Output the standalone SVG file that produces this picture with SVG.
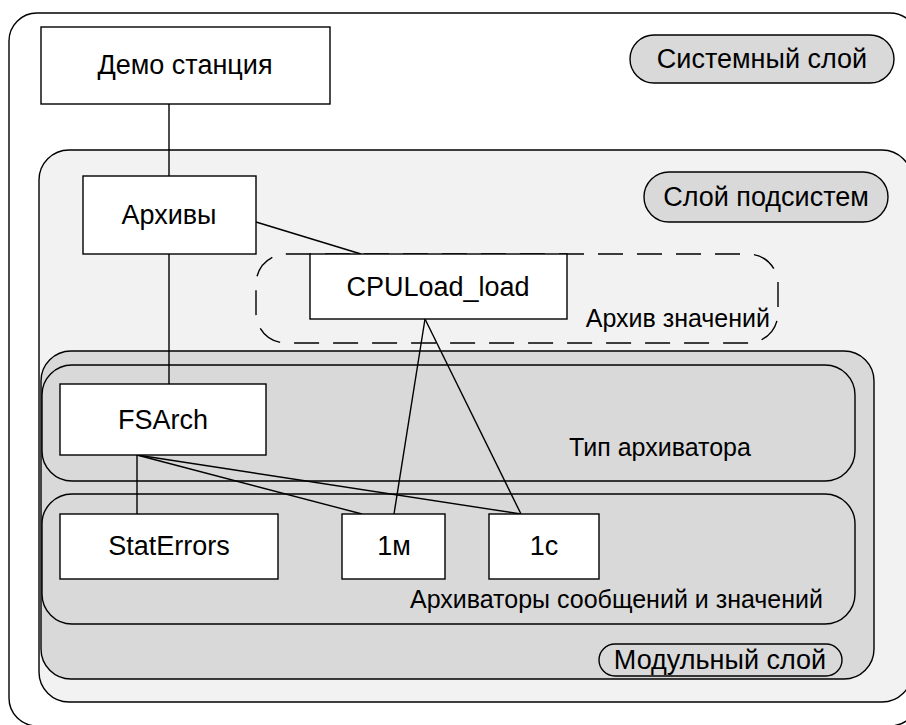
<svg xmlns="http://www.w3.org/2000/svg" width="906" height="725" viewBox="0 0 906 725">
<style>
.layer{stroke:#000;stroke-width:1.4}
.box{fill:#fff;stroke:#000;stroke-width:1.4}
.pill{fill:#d9d9d9;stroke:#000;stroke-width:1.4}
.t{font-family:"Liberation Sans",Arial,sans-serif;font-size:27px;fill:#000}
.s{font-size:25px}
.c{text-anchor:middle}
.e{text-anchor:end}
.conn line{stroke:#000;stroke-width:1.4}
</style>
<rect width="906" height="725" fill="#fff"/>
<g id="system-layer">
<rect class="layer" x="9" y="13" width="909" height="713" rx="28" fill="#fff"/>
<rect class="pill" x="630" y="35" width="264" height="48" rx="24"/>
<text class="t c" x="762" y="68">Системный слой</text>
</g>
<g id="subsystem-layer">
<rect class="layer" x="39" y="150" width="873" height="552" rx="30" fill="#f2f2f2"/>
<rect class="pill" x="644" y="172" width="244" height="50" rx="25"/>
<text class="t c" x="766" y="206">Слой подсистем</text>
</g>
<g id="value-archive-group">
<rect x="256" y="254" width="522" height="89" rx="30" fill="none" stroke="#000" stroke-width="1.4" stroke-dasharray="25,14"/>
<text class="t s e" x="770" y="327">Архив значений</text>
</g>
<g id="module-layer">
<rect class="layer" x="41" y="351" width="833" height="328" rx="30" fill="#d9d9d9"/>
<rect class="pill" x="599" y="644" width="243" height="32" rx="16"/>
<text class="t c" x="720" y="669">Модульный слой</text>
</g>
<g id="archiver-type-layer">
<rect class="layer" x="42" y="365" width="813" height="116" rx="30" fill="#d9d9d9"/>
<text class="t s c" x="660" y="456">Тип архиватора</text>
</g>
<g id="archivers-layer">
<rect class="layer" x="42" y="494" width="813" height="130" rx="30" fill="#d9d9d9"/>
<text class="t s e" x="823" y="608">Архиваторы сообщений и значений</text>
</g>
<g class="conn" id="connectors">
<line x1="169" y1="104" x2="169" y2="176"/>
<line x1="169" y1="254" x2="169" y2="384"/>
<line x1="256" y1="222" x2="361" y2="254"/>
<line x1="425" y1="319" x2="394" y2="514"/>
<line x1="425" y1="319" x2="521" y2="514"/>
<line x1="137" y1="455" x2="137" y2="514"/>
<line x1="137" y1="455" x2="362" y2="514"/>
<line x1="137" y1="455" x2="521" y2="514"/>
</g>
<g id="demo-station">
<rect class="box" x="41" y="27" width="289" height="77"/>
<text class="t c" x="185" y="74">Демо станция</text>
</g>
<g id="archives">
<rect class="box" x="83" y="176" width="173" height="78"/>
<text class="t c" x="169" y="224">Архивы</text>
</g>
<g id="cpuload">
<rect class="box" x="310" y="254" width="257" height="65"/>
<text class="t c" x="438" y="296">CPULoad_load</text>
</g>
<g id="fsarch">
<rect class="box" x="60" y="384" width="206" height="71"/>
<text class="t c" x="163" y="429">FSArch</text>
</g>
<g id="staterrors">
<rect class="box" x="60" y="514" width="218" height="65"/>
<text class="t c" x="169" y="555">StatErrors</text>
</g>
<g id="one-min">
<rect class="box" x="342" y="514" width="103" height="65"/>
<text class="t c" x="394" y="555">1м</text>
</g>
<g id="one-sec">
<rect class="box" x="489" y="514" width="110" height="65"/>
<text class="t c" x="544" y="555">1с</text>
</g>
</svg>
